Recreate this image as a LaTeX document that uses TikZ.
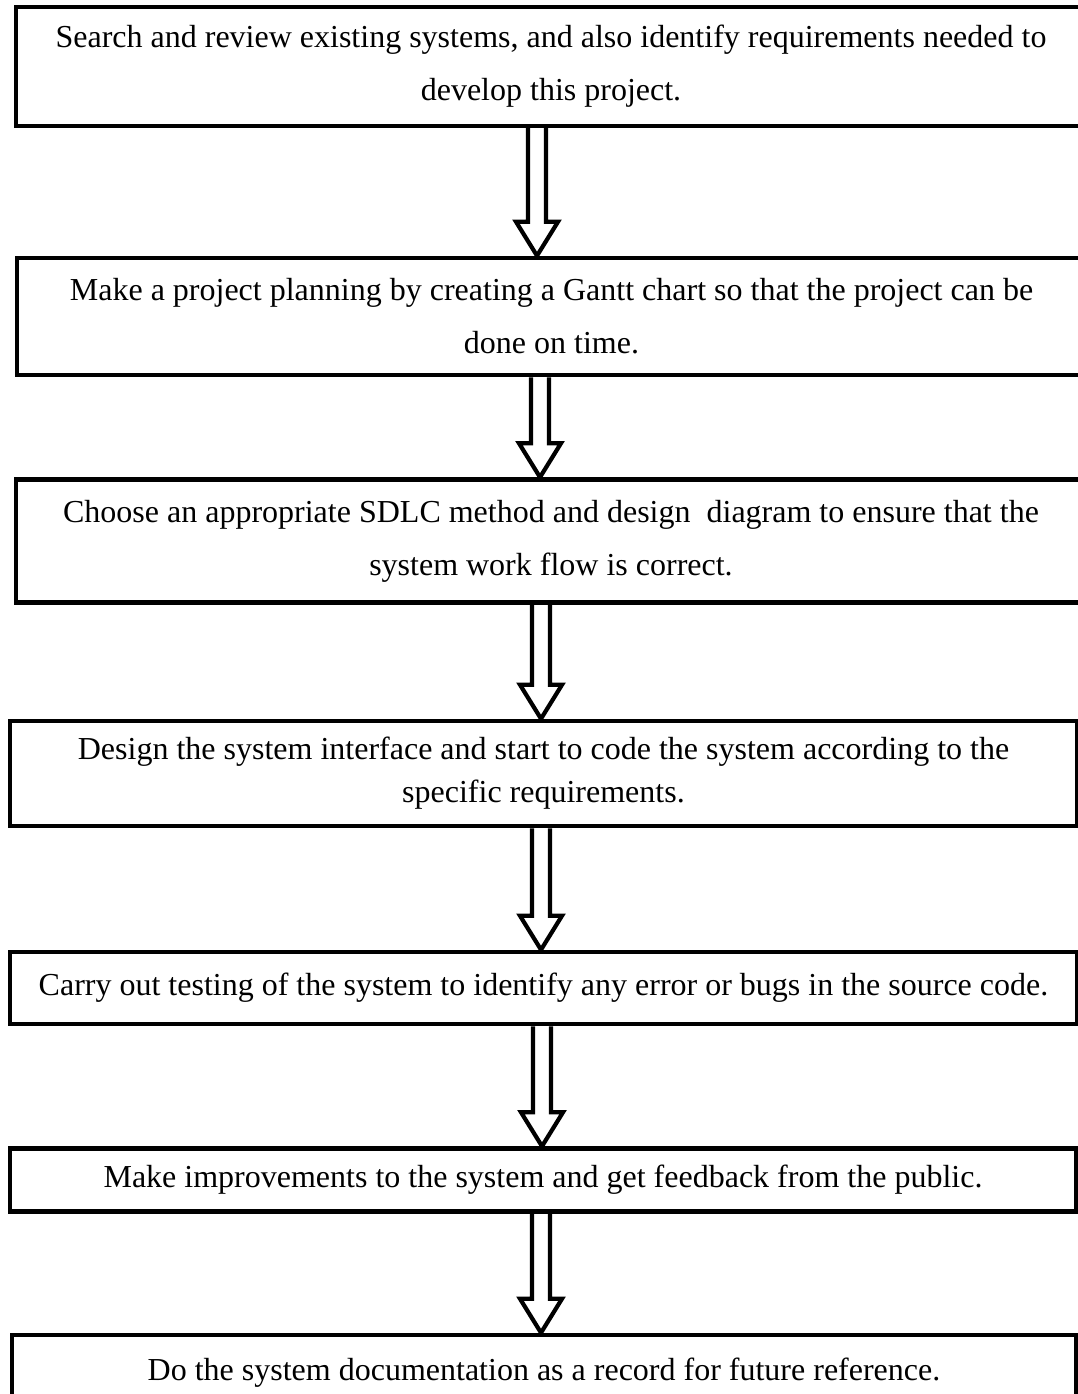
\documentclass[tikz,border=0pt]{standalone}
\usepackage{fontspec}
\setmainfont{Liberation Serif}
\usetikzlibrary{calc}
\tikzset{
  stepbox/.style={draw=black, line width=4.5pt, fill=none, inner sep=0pt, align=center,
    font={\fontsize{32}{53}\selectfont}},
  hollowarr/.style={draw=black, line width=4.2pt, line join=miter},
}
\newcommand{\hollowdown}[3]{%
  \draw[hollowarr] let \p1=(#2.south), \p2=(#3.north) in
    (#1pt-9pt,\y1) -- (#1pt-9pt,\y2+34pt) -- (#1pt-21pt,\y2+34pt) -- (#1pt,\y2)
    -- (#1pt+21pt,\y2+34pt) -- (#1pt+9pt,\y2+34pt) -- (#1pt+9pt,\y1);}
\begin{document}
\begin{tikzpicture}
\useasboundingbox (0pt,0pt) rectangle (1078pt,-1394pt);
\node[stepbox, minimum width=1070pt, minimum height=119pt] (b1) at (551pt,-66.5pt)
  {Search and review existing systems, and also identify requirements needed to\\ develop this project.};
\node[stepbox, minimum width=1069pt, minimum height=117pt] (b2) at (551.5pt,-316.5pt)
  {Make a project planning by creating a Gantt chart so that the project can be\\ done on time.};
\node[stepbox, minimum width=1070pt, minimum height=123pt] (b3) at (551pt,-541pt)
  {Choose an appropriate SDLC method and design\ \ diagram to ensure that the\\ system work flow is correct.};
\node[stepbox, minimum width=1067pt, minimum height=105pt, font={\fontsize{32}{43}\selectfont}] (b4) at (543.5pt,-773.5pt)
  {Design the system interface and start to code the system according to the\\ specific requirements.};
\node[stepbox, minimum width=1067pt, minimum height=72pt] (b5) at (543.5pt,-988pt)
  {Carry out testing of the system to identify any error or bugs in the source code.};
\node[stepbox, minimum width=1066pt, minimum height=63pt] (b6) at (543pt,-1180pt)
  {Make improvements to the system and get feedback from the public.};
\node[stepbox, minimum width=1064pt, minimum height=76pt] (b7) at (544pt,-1373pt)
  {Do the system documentation as a record for future reference.};
\hollowdown{537}{b1}{b2}
\hollowdown{540}{b2}{b3}
\hollowdown{541}{b3}{b4}
\hollowdown{541}{b4}{b5}
\hollowdown{542}{b5}{b6}
\hollowdown{541}{b6}{b7}
\end{tikzpicture}
\end{document}
